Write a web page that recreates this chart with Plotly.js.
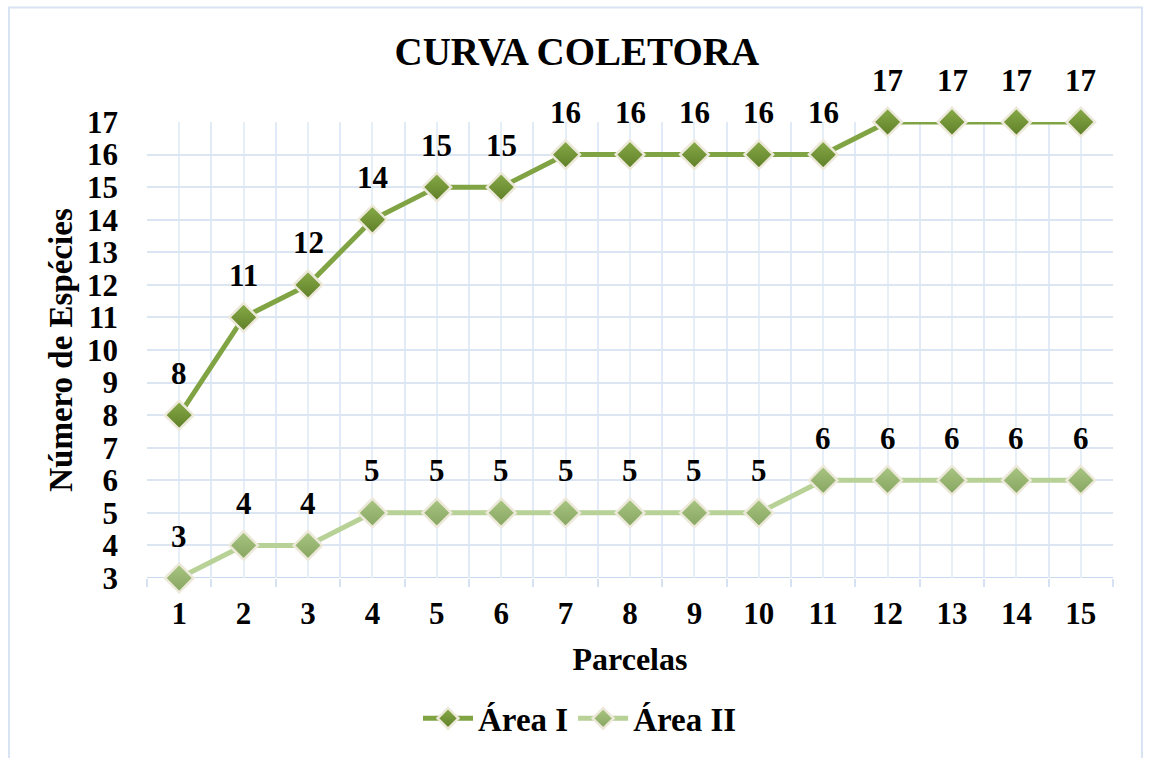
<!DOCTYPE html>
<html>
<head>
<meta charset="utf-8">
<script src="https://cdn.plot.ly/plotly-3.0.1.min.js"></script>
<style>
html,body{margin:0;padding:0;background:#fff;}
#chart{width:1149px;height:758px;}
</style>
</head>
<body>
<div id="chart"></div>
<script>
const parcelas = [1,2,3,4,5,6,7,8,9,10,11,12,13,14,15];
const areaI = [8,11,12,14,15,15,16,16,16,16,16,17,17,17,17];
const areaII = [3,4,4,5,5,5,5,5,5,5,6,6,6,6,6];
const yTicks = [3,4,5,6,7,8,9,10,11,12,13,14,15,16,17];

const FONT = "Liberation Serif, 'Times New Roman', serif";
const W = 1149, H = 758;
const M = {l:147, r:36, t:122, b:178};
const PW = W - M.l - M.r, PH = H - M.t - M.b;
const px = v => (v - M.l) / PW;
const py = v => (H - M.b - v) / PH;

const traces = [
  {
    x: parcelas, y: areaI, name: 'Área I', type: 'scatter', mode: 'lines+markers',
    line: {color: '#80a343', width: 5},
    marker: {symbol: 'diamond', size: 22, color: '#88ab48',
             gradient: {type: 'vertical', color: '#5e7e27'},
             line: {color: '#ede9da', width: 2.5}},
    cliponaxis: false
  },
  {
    x: parcelas, y: areaII, name: 'Área II', type: 'scatter', mode: 'lines+markers',
    line: {color: '#b7d196', width: 5},
    marker: {symbol: 'diamond', size: 22, color: '#a9c683',
             gradient: {type: 'vertical', color: '#86a560'},
             line: {color: '#ede9da', width: 2.5}},
    cliponaxis: false
  }
];

const annotations = [];
[areaI, areaII].forEach(series => {
  series.forEach((v, i) => {
    annotations.push({
      x: parcelas[i], y: v, xref: 'x', yref: 'y', text: String(v),
      showarrow: false, yshift: 42,
      font: {family: FONT, size: 31, color: '#000', weight: 'bold'}
    });
  });
});

const layout = {
  width: W, height: H,
  margin: M,
  paper_bgcolor: '#fff', plot_bgcolor: '#fff',
  title: {text: 'CURVA COLETORA', x: 0.502, xanchor: 'center', y: 1 - 51/H, yanchor: 'middle',
          font: {family: FONT, size: 39, color: '#000', weight: 'bold'}},
  xaxis: {
    range: [0.5, 15.5], tickmode: 'linear', tick0: 1, dtick: 1,
    showgrid: true, gridcolor: '#e6eef8', gridwidth: 2,
    zeroline: false, showline: false, ticks: '',
    ticklabelstandoff: 14,
    tickfont: {family: FONT, size: 31, color: '#000', weight: 'bold'},
    minor: {tick0: 0.5, dtick: 1, showgrid: true, gridcolor: '#e1eaf6', gridwidth: 2,
            ticks: 'outside', ticklen: 8, tickwidth: 2, tickcolor: '#d6e2f2'},
    title: {text: 'Parcelas', standoff: 17,
            font: {family: FONT, size: 32, color: '#000', weight: 'bold'}},
    fixedrange: true
  },
  yaxis: {
    range: [3, 17], tickmode: 'array', tickvals: yTicks, ticktext: yTicks.map(String),
    showgrid: true, gridcolor: '#dce6f3', gridwidth: 2,
    zeroline: false, showline: false, ticks: '',
    ticklabelstandoff: 28,
    tickfont: {family: FONT, size: 31, color: '#000', weight: 'bold'},
    title: {text: 'Número de Espécies', standoff: 4,
            font: {family: FONT, size: 33, color: '#000', weight: 'bold'}},
    fixedrange: true
  },
  showlegend: true,
  legend: {orientation: 'h', x: px(580), xanchor: 'center', y: py(721), yanchor: 'middle',
           font: {family: FONT, size: 33, color: '#000', weight: 'bold'},
           itemwidth: 50, traceorder: 'normal', bgcolor: 'rgba(0,0,0,0)'},
  annotations: annotations,
  shapes: [
    {type: 'line', xref: 'paper', yref: 'y', x0: 0, x1: 1, y0: 3, y1: 3,
     line: {color: '#c9d9ee', width: 2}, layer: 'below'},
    {type: 'rect', xref: 'paper', yref: 'paper',
     x0: px(9), x1: px(1142), y0: py(775), y1: py(7),
     line: {color: '#d9e4f2', width: 2}, fillcolor: 'rgba(0,0,0,0)', layer: 'below'}
  ]
};

Plotly.newPlot('chart', traces, layout, {displayModeBar: false, staticPlot: true});
</script>
</body>
</html>
